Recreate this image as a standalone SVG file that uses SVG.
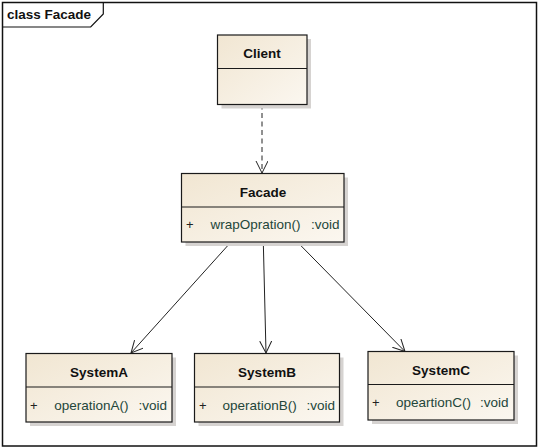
<svg xmlns="http://www.w3.org/2000/svg" width="539" height="448" viewBox="0 0 539 448">
<style>
.box{stroke:#1a1a1a;stroke-width:1.2;fill:url(#g)}
.sh{fill:#d6d3d1}
.div{stroke:#1a1a1a;stroke-width:1.2}
.name{font-family:"Liberation Sans",Arial,sans-serif;font-weight:bold;font-size:13.5px;fill:#111;text-anchor:middle}
.op{font-family:"Liberation Sans",Arial,sans-serif;font-size:13.5px;fill:#23463a}
.plus{font-family:"Liberation Sans",Arial,sans-serif;font-size:13px;fill:#222}
.ln{stroke:#222;stroke-width:1;fill:none}
</style>
<defs>
<linearGradient id="g" x1="0" y1="0" x2="1" y2="1">
<stop offset="0" stop-color="#f1e6d2"/>
<stop offset="1" stop-color="#fbf7f0"/>
</linearGradient>
<marker id="open" markerWidth="14" markerHeight="14" refX="12" refY="6" orient="auto" markerUnits="userSpaceOnUse">
<path d="M0,0 L12,6 L0,12" fill="none" stroke="#222" stroke-width="1"/>
</marker>
</defs>
<rect x="0" y="0" width="539" height="448" fill="#fff"/>
<g id="frame">
<rect x="2.5" y="2.5" width="534" height="443.5" fill="none" stroke="#111" stroke-width="1.5"/>
<path d="M2.5,27 L90.7,27 L103.3,14 L103.3,2.5" fill="none" stroke="#111" stroke-width="1.2"/>
<text x="7" y="19" font-family="Liberation Sans,Arial,sans-serif" font-weight="bold" font-size="13.5" fill="#111">class Facade</text>
</g>
<g id="connectors">
<line class="ln" x1="262" y1="104.5" x2="262" y2="173" stroke-dasharray="5,3.5" marker-end="url(#open)"/>
<line class="ln" x1="231" y1="242" x2="131" y2="353" marker-end="url(#open)"/>
<line class="ln" x1="263.3" y1="242" x2="266" y2="353" marker-end="url(#open)"/>
<line class="ln" x1="297.3" y1="242" x2="405" y2="351.5" marker-end="url(#open)"/>
</g>
<g id="client">
<rect class="sh" x="221.5" y="39" width="89.5" height="69.5"/>
<rect class="box" x="217.5" y="35" width="89.5" height="69.5"/>
<line class="div" x1="217.5" y1="68.5" x2="307" y2="68.5"/>
<text class="name" x="262" y="58">Client</text>
</g>
<g id="facade">
<rect class="sh" x="185.5" y="177.5" width="162.5" height="68.5"/>
<rect class="box" x="181.5" y="173.5" width="162.5" height="68.5"/>
<line class="div" x1="181.5" y1="207" x2="344" y2="207"/>
<text class="name" x="263" y="197">Facade</text>
<text class="plus" x="186" y="229">+</text>
<text class="op" x="210.5" y="229">wrapOpration()</text>
<text class="op" x="339.5" y="229" text-anchor="end">:void</text>
</g>
<g id="systemA">
<rect class="sh" x="30" y="357.5" width="146" height="68.5"/>
<rect class="box" x="26" y="353.5" width="146" height="68.5"/>
<line class="div" x1="26" y1="387" x2="172" y2="387"/>
<text class="name" x="99" y="377">SystemA</text>
<text class="plus" x="30" y="410">+</text>
<text class="op" x="54.3" y="410">operationA()</text>
<text class="op" x="167" y="410" text-anchor="end">:void</text>
</g>
<g id="systemB">
<rect class="sh" x="198.5" y="357.5" width="145" height="68.5"/>
<rect class="box" x="194.5" y="353.5" width="145" height="68.5"/>
<line class="div" x1="194.5" y1="387" x2="339.5" y2="387"/>
<text class="name" x="267" y="377">SystemB</text>
<text class="plus" x="199" y="410">+</text>
<text class="op" x="222.5" y="410">operationB()</text>
<text class="op" x="335" y="410" text-anchor="end">:void</text>
</g>
<g id="systemC">
<rect class="sh" x="372" y="355.5" width="146" height="68.5"/>
<rect class="box" x="368" y="351.5" width="146" height="68.5"/>
<line class="div" x1="368" y1="384.5" x2="514" y2="384.5"/>
<text class="name" x="441" y="375">SystemC</text>
<text class="plus" x="372" y="407">+</text>
<text class="op" x="396" y="407">opeartionC()</text>
<text class="op" x="508.5" y="407" text-anchor="end">:void</text>
</g>
</svg>
